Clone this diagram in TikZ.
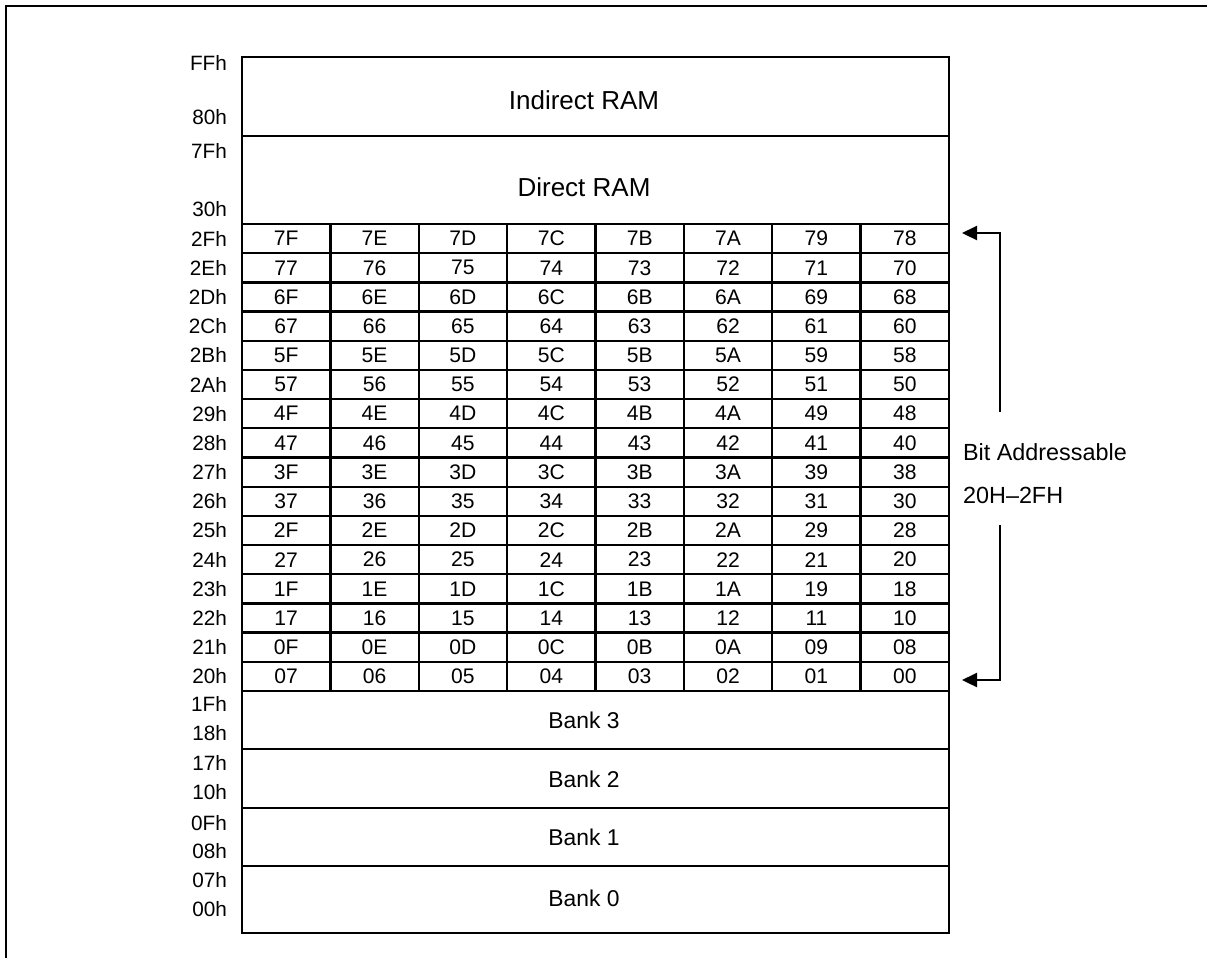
\documentclass[tikz,border=0pt]{standalone}
\usepackage{fontspec}
\setmainfont{Liberation Sans}
\usetikzlibrary{arrows.meta}

\begin{document}
\begin{tikzpicture}[x=0.02cm, y=-0.02cm, line width=1.3pt,
    cell/.style={font=\fontsize{12}{14}\selectfont},
    addr/.style={anchor=east, inner sep=0pt, font=\fontsize{11.8}{14}\selectfont},
    area/.style={font=\fontsize{14.8}{18}\selectfont},
    bank/.style={font=\fontsize{13}{16}\selectfont},
    side/.style={anchor=west, inner sep=0pt, font=\fontsize{13.3}{16}\selectfont}]
    \useasboundingbox (0,0) rectangle (1207,958);

    % 外框（右边和下边在图外）
    \draw (6,958) -- (6,6) -- (1207,6);

    % 整个存储区
    \draw (242,57) rectangle (949,933);
    \foreach \yy in {136,224,691,749,808,866}
        \draw (242,\yy) -- (949,\yy);

    % 间接和直接寻址区
    \node[area] (indirect) at (584,100) {Indirect RAM};
    \node[addr] (a-ff) at (228,63) {FFh};
    \node[addr] (a-80) at (228,117) {80h};
    \node[area] (direct) at (584,187) {Direct RAM};
    \node[addr] (a-7f) at (228,151) {7Fh};
    \node[addr] (a-30) at (228,209) {30h};

    % 位寻址区的格子
    \foreach \r in {1,...,15}
        \draw (242,{224+29.1875*\r}) -- (949,{224+29.1875*\r});
    \foreach \c in {1,...,7}
        \draw ({242+88.375*\c},224) -- ({242+88.375*\c},691);

    % 位地址
    \pgfmathsetbasenumberlength{2}
    \foreach \r in {0,...,15} {
        \pgfmathtruncatemacro{\adr}{47-\r}
        \pgfmathdectoBase{\adrtxt}{\adr}{16}
        \node[addr] (a-\r) at (228,{224+29.1875*(\r+0.5)}) {\adrtxt h};
        \foreach \c in {0,...,7} {
            \pgfmathtruncatemacro{\bitn}{(15-\r)*8+7-\c}
            \pgfmathdectoBase{\bittxt}{\bitn}{16}
            \node[cell] (b-\r-\c) at ({242+88.375*(\c+0.5)},{224+29.1875*(\r+0.5)}) {\bittxt};
        }
    }

    % 工作寄存器组
    \foreach \n/\yc/\hi/\yhi/\lo/\ylo in {3/720/1Fh/704/18h/733, 2/779/17h/763/10h/792,
                                          1/837/0Fh/823/08h/851, 0/898/07h/880/00h/909} {
        \node[bank] (bank\n) at (584,\yc) {Bank \n};
        \node[addr] (hi\n) at (228,\yhi) {\hi};
        \node[addr] (lo\n) at (228,\ylo) {\lo};
    }

    % 右边的说明和箭头
    \node[side] (bitlbl) at (962,452) {Bit Addressable};
    \node[side] (rangelbl) at (962,495) {20H--2FH};
    \coordinate (tip-top) at (962,233);
    \coordinate (tip-bot) at (962,680);
    \coordinate (brk-top) at (1000,412);
    \coordinate (brk-bot) at (1000,525);
    \draw[-{Triangle[length=0.3cm,width=0.28cm]}] (brk-top) |- (tip-top);
    \draw[-{Triangle[length=0.3cm,width=0.28cm]}] (brk-bot) |- (tip-bot);
\end{tikzpicture}
\end{document}
